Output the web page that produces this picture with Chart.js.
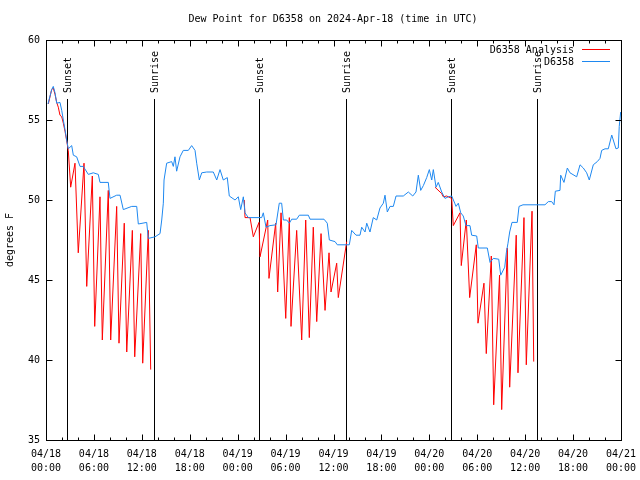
<!DOCTYPE html>
<html>
<head>
<meta charset="utf-8">
<title>Dew Point for D6358</title>
<script src="https://cdn.jsdelivr.net/npm/chart.js@4.4.1/dist/chart.umd.min.js"></script>
<style>
  html, body { margin: 0; padding: 0; background: #fff; }
  #wrap { width: 640px; height: 480px; }
</style>
</head>
<body>
<div id="wrap"><canvas id="dewChart" width="640" height="480"></canvas></div>
<script>
// hours since 04/18 00:00 UTC
const obsHours = [
  0.25, 0.71, 0.91, 1.13, 1.34, 1.75, 1.97, 2.17, 2.38, 2.59, 2.79, 3.22, 3.42, 3.84, 4.26, 4.67,
  5.30, 5.92, 6.55, 6.76, 7.80, 8.01, 8.85, 9.27, 9.68, 10.73, 11.36, 11.56, 12.61, 12.81, 13.65,
  14.28, 14.49, 14.69, 14.78, 15.11, 15.74, 15.94, 16.15, 16.36, 16.78, 17.19, 17.82, 18.24, 18.66,
  18.87, 19.20, 19.50, 20.12, 20.95, 21.38, 21.79, 22.20, 22.70, 22.95, 23.67, 24.08, 24.38, 24.71,
  24.92, 25.33, 27.01, 27.21, 27.55, 28.05, 28.80, 29.21, 29.51, 29.72, 30.14, 30.47, 30.77, 31.39,
  31.72, 32.85, 33.06, 34.81, 35.22, 35.48, 36.19, 36.48, 37.98, 38.28, 38.82, 39.32, 39.53, 39.95,
  40.16, 40.57, 40.98, 41.41, 41.82, 42.24, 42.45, 42.74, 43.08, 43.49, 43.83, 44.74, 45.37, 45.92,
  46.33, 46.62, 46.92, 47.25, 47.67, 48.00, 48.30, 48.50, 48.84, 49.12, 49.55, 49.96, 50.38, 50.80,
  51.18, 51.34, 51.63, 51.93, 52.25, 52.59, 53.09, 53.30, 53.93, 54.13, 55.26, 55.60, 56.01, 56.69,
  56.94, 57.44, 57.64, 57.85, 58.06, 58.35, 59.01, 59.23, 59.73, 62.48, 62.90, 63.32, 63.61, 63.78,
  64.36, 64.45, 64.86, 65.28, 65.61, 66.45, 66.87, 67.28, 67.70, 68.03, 68.53, 69.03, 69.37, 69.58,
  70.00, 70.41, 70.84, 71.37, 71.66, 71.78, 71.96
];
const obsDewpt = [
  56.0, 56.9, 57.1, 56.7, 56.05, 56.1, 55.6, 55.0, 54.4, 53.75, 53.2, 53.4, 52.8, 52.7, 52.1, 52.1,
  51.6, 51.7, 51.6, 51.1, 51.1, 50.1, 50.3, 50.3, 49.4, 49.6, 49.6, 48.5, 48.6, 47.6, 47.7,
  47.9, 48.75, 49.8, 51.25, 52.3, 52.4, 52.1, 52.7, 51.8, 52.7, 53.1, 53.1, 53.4, 53.1,
  52.3, 51.25, 51.7, 51.75, 51.75, 51.25, 51.9, 51.25, 51.4, 50.25, 50.0, 50.2, 49.4, 50.2,
  49.2, 48.9, 48.9, 49.2, 48.3, 48.4, 48.45, 49.8, 49.8, 48.75, 48.75, 48.55, 48.8, 48.8,
  49.05, 49.05, 48.8, 48.8, 48.55, 47.5, 47.4, 47.2, 47.2, 48.1, 47.8, 47.8, 48.3, 48.0,
  48.55, 48.0, 48.9, 48.75, 49.5, 49.8, 50.3, 49.25, 49.6, 49.6, 50.25, 50.25, 50.5, 50.25,
  50.5, 51.55, 50.6, 50.9, 51.4, 51.9, 51.25, 51.9, 50.8, 51.1, 50.5, 50.1, 50.2, 50.25,
  49.8, 49.6, 49.8, 49.2, 49.0, 48.4, 48.4, 47.8, 47.75, 47.0, 47.0, 46.1, 46.35, 46.3,
  45.3, 45.8, 46.7, 47.3, 48.0, 48.6, 48.6, 49.6, 49.7, 49.7, 49.9, 49.9, 49.7, 50.55,
  50.6, 51.55, 51.1, 52.0, 51.7, 51.45, 52.2, 52.0, 51.7, 51.25, 52.2, 52.4, 52.6, 53.1,
  53.2, 53.2, 54.06, 53.2, 53.25, 54.6, 55.5
];

// analysis: only plotted where it departs from the obs (null = gap)
const anaHours = [
  0.29, 0.71, 0.91, 1.13, 1.34, 1.54, 1.75, 1.97, 2.17, 2.38, 2.59, 2.79, 3.09, 3.63, 4.04, 4.76,
  5.10, 5.80, 6.10, 6.76, 7.05, 7.80, 8.10, 8.85, 9.14, 9.80, 10.11, 10.81, 11.11, 11.86, 12.11,
  12.81, 13.11, 13.2,
  24.83, 24.92, 25.55, 25.96, 26.67, 26.80, 27.76, 27.92, 28.76, 29.01, 29.43, 30.02, 30.47, 30.68,
  31.39, 32.02, 32.52, 32.97, 33.47, 33.90, 34.44, 34.94, 35.44, 35.69, 36.40, 36.60, 37.65, 37.7,
  48.71, 49.55, 49.75, 50.17, 50.80, 51.00, 51.84, 52.00, 52.63, 53.05, 53.88, 54.09, 54.84, 55.13,
  55.76, 56.06, 56.79, 57.06, 57.76, 58.06, 58.88, 59.10, 59.85, 60.14, 60.86, 61.07
];
const anaDewpt = [
  56.0, 56.9, 57.0, 56.6, 56.1, 55.8, 55.3, 55.2, 54.8, 54.3, 53.7, 53.1, 50.8, 52.3, 46.7, 52.3,
  44.6, 51.5, 42.1, 50.2, 41.25, 50.6, 41.25, 49.6, 41.05, 48.55, 40.5, 48.1, 40.2, 47.9, 39.8,
  48.1, 39.4, null,
  50.0, 48.9, 48.9, 47.7, 48.6, 46.45, 48.75, 45.1, 48.55, 44.25, 49.2, 42.6, 48.9, 42.1,
  48.1, 41.25, 48.75, 41.4, 48.3, 42.4, 47.9, 43.1, 46.7, 44.25, 46.05, 43.9, 47.4, null,
  50.8, 50.4, 50.2, 50.25, 50.1, 48.4, 49.2, 45.9, 48.75, 43.9, 47.2, 42.3, 44.8, 40.4,
  46.5, 37.2, 45.3, 36.9, 47.0, 38.3, 47.8, 39.2, 48.9, 39.7, 49.3, 39.9
];

const sunHours = [2.67, 13.56, 26.71, 37.62, 50.71, 61.52];
const sunLabels = ["Sunset", "Sunrise", "Sunset", "Sunrise", "Sunset", "Sunrise"];

const xTickDates = ["04/18", "04/18", "04/18", "04/18", "04/19", "04/19", "04/19", "04/19",
                    "04/20", "04/20", "04/20", "04/20", "04/21"];
const xTickTimes = ["00:00", "06:00", "12:00", "18:00", "00:00", "06:00", "12:00", "18:00",
                    "00:00", "06:00", "12:00", "18:00", "00:00"];
const yTicks = [35, 40, 45, 50, 55, 60];

const FONT_FAMILY = "'DejaVu Sans Mono', monospace";
const FONT = "10px " + FONT_FAMILY;
const RED = "#ff0000";
const BLUE = "#1e88f0";

Chart.defaults.font.family = FONT_FAMILY;
Chart.defaults.font.size = 10;
Chart.defaults.color = "#000";

// gnuplot-ish decorations: frame, inward ticks, sun markers, title, key
const gnuplotFrame = {
  id: "gnuplotFrame",
  beforeDatasetsDraw(chart) {
    const { ctx, chartArea: a, scales: { x } } = chart;
    ctx.save();
    ctx.strokeStyle = "#000";
    ctx.fillStyle = "#000";
    ctx.lineWidth = 1;
    ctx.font = FONT;
    sunHours.forEach((h, i) => {
      const px = Math.round(x.getPixelForValue(h)) + 0.5;
      ctx.beginPath();
      ctx.moveTo(px, 99);
      ctx.lineTo(px, a.bottom);
      ctx.stroke();
      ctx.save();
      ctx.translate(px + 1, 93);
      ctx.rotate(-Math.PI / 2);
      ctx.textAlign = "left";
      ctx.textBaseline = "middle";
      ctx.fillText(sunLabels[i], 0, 0);
      ctx.restore();
    });
    ctx.restore();
  },
  afterDraw(chart) {
    const { ctx, chartArea: a, scales: { x, y } } = chart;
    ctx.save();
    ctx.strokeStyle = "#000";
    ctx.fillStyle = "#000";
    ctx.lineWidth = 1;

    const L = Math.round(a.left) + 0.5, R = Math.round(a.right) + 0.5;
    const T = Math.round(a.top) + 0.5, B = Math.round(a.bottom) + 0.5;
    ctx.strokeRect(L, T, R - L, B - T);

    ctx.beginPath();
    for (let h = 0; h <= 72; h += 2) {
      const px = Math.round(x.getPixelForValue(h)) + 0.5;
      const len = h % 6 === 0 ? 6 : 3;
      ctx.moveTo(px, B); ctx.lineTo(px, B - len);
      ctx.moveTo(px, T); ctx.lineTo(px, T + len);
    }
    yTicks.forEach((v) => {
      const py = Math.round(y.getPixelForValue(v)) + 0.5;
      ctx.moveTo(L, py); ctx.lineTo(L + 6, py);
      ctx.moveTo(R, py); ctx.lineTo(R - 6, py);
    });
    ctx.stroke();

    ctx.font = FONT;
    ctx.textBaseline = "middle";
    ctx.textAlign = "center";
    ctx.fillText("Dew Point for D6358 on 2024-Apr-18 (time in UTC)", 333, 19);

    ctx.save();
    ctx.translate(10, 240);
    ctx.rotate(-Math.PI / 2);
    ctx.fillText("degrees F", 0, 0);
    ctx.restore();

    // key
    const ds = chart.data.datasets;
    ctx.textAlign = "right";
    [50, 62].forEach((ty, i) => {
      ctx.fillStyle = "#000";
      ctx.fillText(ds[i].label, 574, ty);
      ctx.strokeStyle = ds[i].borderColor;
      ctx.beginPath();
      ctx.moveTo(582, ty - 0.5);
      ctx.lineTo(610, ty - 0.5);
      ctx.stroke();
    });
    ctx.restore();
  }
};

new Chart(document.getElementById("dewChart"), {
  type: "line",
  data: {
    datasets: [
      {
        label: "D6358 Analysis",
        data: anaHours.map((h, i) => ({ x: h, y: anaDewpt[i] })),
        borderColor: RED,
        borderWidth: 1,
        pointRadius: 0,
        tension: 0,
        spanGaps: false,
        order: 2
      },
      {
        label: "D6358",
        data: obsHours.map((h, i) => ({ x: h, y: obsDewpt[i] })),
        borderColor: BLUE,
        borderWidth: 1,
        pointRadius: 0,
        tension: 0,
        order: 1
      }
    ]
  },
  options: {
    responsive: false,
    animation: false,
    devicePixelRatio: 1,
    layout: { padding: { top: 40, right: 19, left: 0, bottom: 0 } },
    plugins: { legend: { display: false }, title: { display: false }, tooltip: { enabled: false } },
    scales: {
      x: {
        type: "linear",
        min: 0,
        max: 72,
        grid: { display: false, tickLength: 0 },
        border: { display: false },
        afterFit: (s) => { s.height = 40; s.paddingLeft = 0; s.paddingRight = 0; },
        ticks: {
          stepSize: 6,
          autoSkip: false,
          maxRotation: 0,
          padding: 7,
          color: "#000",
          font: { size: 10, lineHeight: 1.4 },
          callback: (v) => {
            const i = Math.round(v / 6);
            return [xTickDates[i], xTickTimes[i]];
          }
        }
      },
      y: {
        min: 35,
        max: 60,
        grid: { display: false, tickLength: 0 },
        border: { display: false },
        afterFit: (s) => { s.width = 46; s.paddingTop = 0; s.paddingBottom = 0; },
        ticks: { stepSize: 5, padding: 6, color: "#000" }
      }
    }
  },
  plugins: [gnuplotFrame]
});
</script>
</body>
</html>
